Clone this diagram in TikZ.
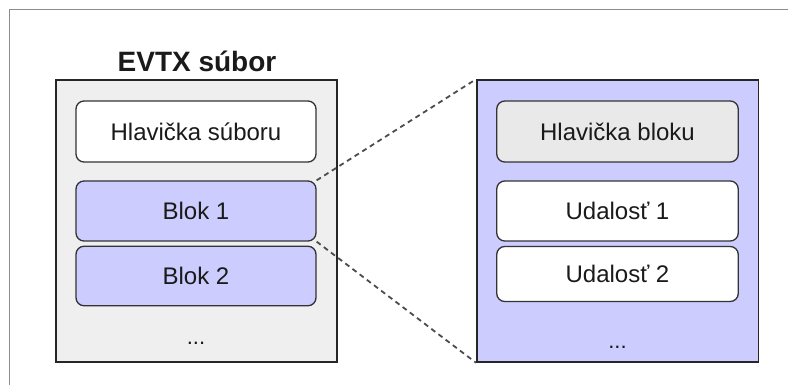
\documentclass[tikz,border=0pt]{standalone}
\usepackage{fontspec}
\setmainfont{Liberation Sans}
\usepackage{xcolor}
\definecolor{suborFill}{HTML}{EFEFEF}
\definecolor{blokFill}{HTML}{CCCCFF}
\definecolor{headFill}{HTML}{E9E9E9}
\definecolor{inkColor}{HTML}{1A1A1A}
\tikzset{
container/.style = {rectangle, draw=black!85, line width=1.5pt,
                    minimum width=#1, minimum height=282pt, inner sep=0pt},
container/.default = 281pt % width of the outer box
}
\tikzset{
entry/.style = {rectangle, rounded corners=8pt, draw=black!80, line width=1.3pt,
                minimum width=240pt, minimum height=#1, inner sep=0pt,
                text=inkColor, font=\fontsize{24}{28}\selectfont},
entry/.default = 60pt, % height of one record
}
\tikzset{
zoomline/.style = {draw=black!70, line width=1.8pt, dash pattern=on 5pt off 4pt}
}

\begin{document}
\begin{tikzpicture}[x=1pt,y=-1pt]
    \useasboundingbox (0,0) rectangle (788,385);
    \draw[black!45, line width=1pt] (9.5,385) -- (9.5,10) -- (788,10);

    % file on the left, one block on the right
    \node[container, fill=suborFill] (suborBox) at (196.5,221) {};
    \node[container=281.5pt, fill=blokFill] (blokBox) at (617.5,221) {};
    \node[anchor=base, text=inkColor, font=\bfseries\fontsize{28}{32}\selectfont] (suborTitle) at (197,72) {EVTX súbor};

    \node[entry=61pt, fill=white] (suborHead) at (196,131.5) {Hlavička súboru};
    \node[entry, fill=blokFill] (blok1) at (196,211) {Blok 1};
    \node[entry=59.5pt, fill=blokFill] (blok2) at (196,276) {Blok 2};
    \node[anchor=base, text=inkColor, font=\fontsize{22}{26}\selectfont] (suborDots) at (196,344) {...};

    \node[entry=61pt, fill=headFill, minimum width=241.5pt] (blokHead) at (617.5,131.5) {Hlavička bloku};
    \node[entry, fill=white, minimum width=241.5pt] (udalost1) at (617.5,211) {Udalosť 1};
    \node[entry=55pt, fill=white, minimum width=241.5pt] (udalost2) at (617.5,274) {Udalosť 2};
    \node[anchor=base, text=inkColor, font=\fontsize{22}{26}\selectfont] (blokDots) at (617.5,348) {...};

    % zoom from Blok 1 to its detail
    \draw[zoomline] (blok1.north east) -- (blokBox.north west);
    \draw[zoomline] (blok1.south east) -- (blokBox.south west);
\end{tikzpicture}
\end{document}
